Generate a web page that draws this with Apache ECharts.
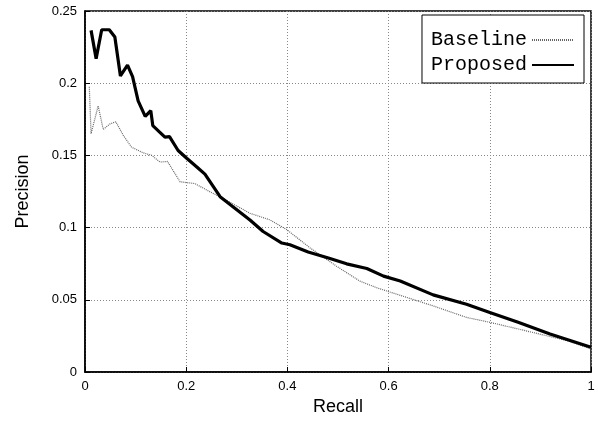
<!DOCTYPE html>
<html>
<head>
<meta charset="utf-8">
<script src="https://cdn.jsdelivr.net/npm/echarts@6/dist/echarts.min.js"></script>
<style>
  html, body { margin: 0; padding: 0; background: #fff; }
  #chart { width: 598px; height: 421px; }
</style>
</head>
<body>
<div id="chart"></div>
<script>
// recall / precision
const baselineRecall = [0.0085, 0.012, 0.026, 0.036, 0.049, 0.061, 0.076, 0.092, 0.115, 0.132, 0.148, 0.163, 0.188, 0.217, 0.247, 0.273, 0.326, 0.366, 0.399, 0.445, 0.497, 0.543, 0.576, 0.623, 0.688, 0.754, 0.800, 0.856, 0.952, 1.0]
const baselinePrecision = [0.1976, 0.165, 0.1843, 0.168, 0.1717, 0.1733, 0.1637, 0.1557, 0.1518, 0.150, 0.1454, 0.1458, 0.1317, 0.1305, 0.1248, 0.1202, 0.1099, 0.1053, 0.0985, 0.0859, 0.0733, 0.063, 0.0584, 0.0531, 0.0458, 0.0378, 0.0344, 0.0298, 0.0218, 0.016]

const proposedRecall = [0.012, 0.022, 0.033, 0.048, 0.059, 0.070, 0.084, 0.094, 0.105, 0.119, 0.130, 0.134, 0.148, 0.158, 0.167, 0.184, 0.201, 0.221, 0.237, 0.267, 0.326, 0.352, 0.389, 0.405, 0.441, 0.481, 0.517, 0.557, 0.590, 0.623, 0.688, 0.754, 0.800, 0.856, 0.919, 1.0]
const proposedPrecision = [0.2366, 0.217, 0.237, 0.237, 0.232, 0.205, 0.2125, 0.2045, 0.1878, 0.177, 0.181, 0.1706, 0.166, 0.1626, 0.163, 0.1534, 0.148, 0.142, 0.137, 0.1214, 0.1053, 0.0973, 0.0893, 0.0881, 0.0831, 0.079, 0.0749, 0.0717, 0.0664, 0.063, 0.0534, 0.0469, 0.0412, 0.0344, 0.0263, 0.0172]

const zip = (xs, ys) => xs.map((x, i) => [x, ys[i]])

const chart = echarts.init(document.getElementById('chart'))
const gridLine = { show: true, lineStyle: { color: '#888', type: [1, 2], width: 1 } }
const frame = { show: true, lineStyle: { color: '#000', width: 1.5 } }
const tick = { show: true, inside: true, length: 5, lineStyle: { color: '#000' } }
const label = { color: '#000', fontFamily: 'Liberation Sans', fontSize: 13 }

chart.setOption({
  animation: false,
  backgroundColor: '#fff',
  grid: { left: 85, right: 7, top: 11, bottom: 46, show: true, borderColor: '#000', borderWidth: 1.5 },
  xAxis: {
    type: 'value', min: 0, max: 1, interval: 0.2,
    name: 'Recall', nameLocation: 'middle', nameGap: 26,
    nameTextStyle: { color: '#000', fontFamily: 'Liberation Sans', fontSize: 18 },
    axisLine: frame, axisTick: tick, splitLine: gridLine,
    axisLabel: Object.assign({ margin: 8 }, label)
  },
  yAxis: {
    type: 'value', min: 0, max: 0.25, interval: 0.05,
    name: 'Precision', nameLocation: 'middle', nameGap: 53,
    nameTextStyle: { color: '#000', fontFamily: 'Liberation Sans', fontSize: 18 },
    axisLine: frame, axisTick: tick, splitLine: gridLine,
    axisLabel: Object.assign({ margin: 8 }, label)
  },
  legend: {
    orient: 'vertical', right: 14, top: 15,
    align: 'right',
    backgroundColor: '#fff', borderColor: '#000', borderWidth: 1, borderRadius: 0,
    padding: [15, 9, 8, 9], itemGap: 5, itemWidth: 42, itemHeight: 20,
    itemStyle: { opacity: 0 },
    textStyle: { color: '#000', fontFamily: 'Liberation Mono', fontSize: 20 },
    data: ['Baseline', 'Proposed']
  },
  series: [
    {
      name: 'Baseline', type: 'line', symbol: 'none', showSymbol: false,
      lineStyle: { color: '#666', width: 1.2, type: [1, 1] },
      itemStyle: { color: '#666' },
      data: zip(baselineRecall, baselinePrecision)
    },
    {
      name: 'Proposed', type: 'line', symbol: 'none', showSymbol: false,
      lineStyle: { color: '#000', width: 3.2 },
      itemStyle: { color: '#000' },
      data: zip(proposedRecall, proposedPrecision)
    }
  ]
})
</script>
</body>
</html>
